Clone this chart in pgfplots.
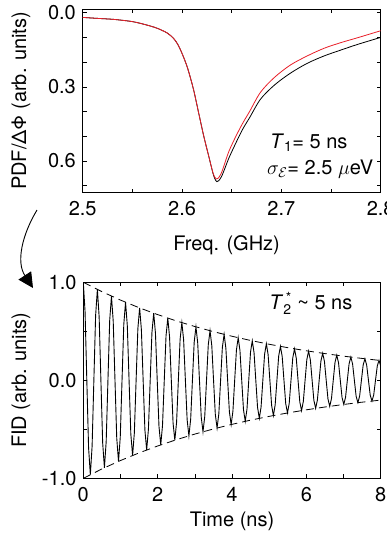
\documentclass[border=0pt]{standalone}
\usepackage{fix-cm}
\usepackage{fontspec}
\setmainfont{TeX Gyre Heros}
\usepackage{pgfplots}
\pgfplotsset{compat=1.18}
\usetikzlibrary{arrows.meta}
\definecolor{cred}{RGB}{232,30,40}
\newcommand\ssz{\fontsize{14}{16}\selectfont}
\newcommand\bsz{\fontsize{20}{23}\selectfont}
\begin{document}
\bsz
\begin{tikzpicture}
\pgfplotsset{
  every axis/.append style={
    scale only axis,
    axis line style={line width=0.8pt},
    tick style={line width=0.6pt, black},
    tick align=inside,
    major tick length=4pt, minor tick length=4pt,
    /pgf/number format/assume math mode=true,
    tick label style={font=\bsz},
    xticklabel style={yshift=-2pt},
    label style={font=\bsz},
  },
}
% ---------------- top panel ----------------
\begin{axis}[
  at={(82.7pt,-192.7pt)}, anchor=south west,
  width=298pt, height=183.4pt,
  xmin=2.5, xmax=2.8, ymin=-0.0138, ymax=0.7287, y dir=reverse,
  xtick={2.5,2.6,2.7,2.8}, minor xtick={2.55,2.65,2.75},
  ytick={0,0.3,0.6}, minor ytick={0.1,0.2,0.4,0.5,0.7},
  xticklabel style={/pgf/number format/.cd, fixed, fixed zerofill, precision=1},
  yticklabel style={/pgf/number format/.cd, fixed, fixed zerofill, precision=1},
  xlabel={Freq. (GHz)}, ylabel={PDF/ΔΦ (arb. units)},
  xlabel style={at={(axis description cs:0.483,-0.315)}, anchor=base},
  ylabel style={at={(axis description cs:-0.19,0.5)}, anchor=base},
]
\addplot[black, line width=0.8pt, smooth] coordinates {
(2.500,0.019) (2.515,0.023) (2.531,0.027) (2.550,0.036) (2.5646,0.050) (2.575,0.063)
(2.585,0.082) (2.5915,0.104) (2.596,0.130) (2.600,0.165) (2.6035,0.200) (2.6067,0.239)
(2.6117,0.313) (2.6168,0.407) (2.622,0.502) (2.627,0.583) (2.631,0.648) (2.633,0.672)
(2.635,0.684) (2.637,0.680) (2.6395,0.665) (2.642,0.642) (2.647,0.590) (2.654,0.529)
(2.661,0.472) (2.668,0.425) (2.679,0.350) (2.693,0.293) (2.709,0.245) (2.726,0.205)
(2.743,0.175) (2.760,0.151) (2.777,0.128) (2.800,0.100)
};
\addplot[cred, line width=0.8pt, smooth] coordinates {
(2.500,0.019) (2.515,0.023) (2.531,0.027) (2.550,0.036) (2.5646,0.050) (2.575,0.063)
(2.585,0.082) (2.5915,0.104) (2.596,0.130) (2.600,0.165) (2.6035,0.200) (2.6067,0.239)
(2.6117,0.313) (2.6168,0.407) (2.622,0.502) (2.627,0.583) (2.631,0.646) (2.633,0.666)
(2.6345,0.673) (2.6365,0.670) (2.6395,0.650) (2.642,0.622) (2.647,0.563) (2.654,0.502)
(2.661,0.448) (2.668,0.400) (2.679,0.322) (2.693,0.262) (2.709,0.212) (2.726,0.175)
(2.743,0.144) (2.760,0.121) (2.777,0.101) (2.800,0.073)
};
\node[anchor=base west] at (axis description cs:0.606,0.242) {\textit{T}\textsubscript{1}= 5 ns};
\node[anchor=base west] at (axis description cs:0.596,0.100) {$\sigma_{\mathcal{E}}$= 2.5 $\mu$eV};
\end{axis}
% ---------------- bottom panel ----------------
\begin{axis}[
  at={(83.3pt,-478.3pt)}, anchor=south west,
  width=297.4pt, height=196pt,
  xmin=0, xmax=8, ymin=-1, ymax=1,
  xtick={0,2,4,6,8}, minor xtick={1,3,5,7},
  ytick={-1,0,1}, minor ytick={-0.5,0.5},
  yticklabel style={/pgf/number format/.cd, fixed, fixed zerofill, precision=1},
  xlabel={Time (ns)}, ylabel={FID (arb. units)},
  xlabel style={at={(axis description cs:0.5,-0.245)}, anchor=base},
  ylabel style={at={(axis description cs:-0.192,0.5)}, anchor=base},
]
\addplot[black, line width=0.9pt] coordinates {
(0,1) (0.0473,0.700) (0.0947,0) (0.1420,-0.687) (0.1894,-0.963) (0.2367,-0.674) (0.2841,0) (0.3314,0.662)
(0.3788,0.927) (0.4261,0.649) (0.4735,0) (0.5208,-0.637) (0.5682,-0.893) (0.6155,-0.625) (0.6629,0) (0.7102,0.613)
(0.7576,0.859) (0.8049,0.602) (0.8523,0) (0.8996,-0.591) (0.9470,-0.827) (0.9943,-0.580) (1.0417,0) (1.0890,0.569)
(1.1364,0.797) (1.1837,0.558) (1.2311,0) (1.2784,-0.548) (1.3258,-0.767) (1.3731,-0.537) (1.4205,0) (1.4678,0.527)
(1.5152,0.739) (1.5625,0.517) (1.6099,0) (1.6572,-0.508) (1.7046,-0.711) (1.7519,-0.498) (1.7993,0) (1.8466,0.489)
(1.8939,0.685) (1.9412,0.480) (1.9886,0) (2.0359,-0.471) (2.0833,-0.659) (2.1306,-0.462) (2.1780,0) (2.2253,0.453)
(2.2727,0.635) (2.3200,0.445) (2.3674,0) (2.4147,-0.436) (2.4621,-0.611) (2.5094,-0.428) (2.5568,0) (2.6041,0.420)
(2.6515,0.588) (2.6988,0.412) (2.7462,0) (2.7935,-0.404) (2.8409,-0.567) (2.8882,-0.397) (2.9356,0) (2.9829,0.389)
(3.0303,0.545) (3.0776,0.382) (3.1250,0) (3.1723,-0.375) (3.2197,-0.525) (3.2670,-0.368) (3.3144,0) (3.3617,0.361)
(3.4091,0.506) (3.4564,0.354) (3.5038,0) (3.5511,-0.348) (3.5985,-0.487) (3.6458,-0.341) (3.6932,0) (3.7405,0.335)
(3.7879,0.469) (3.8352,0.328) (3.8826,0) (3.9299,-0.322) (3.9773,-0.451) (4.0246,-0.316) (4.0720,0) (4.1193,0.310)
(4.1667,0.435) (4.2140,0.304) (4.2614,0) (4.3087,-0.299) (4.3561,-0.418) (4.4034,-0.293) (4.4508,0) (4.4981,0.288)
(4.5455,0.403) (4.5928,0.282) (4.6402,0) (4.6875,-0.277) (4.7349,-0.388) (4.7822,-0.272) (4.8296,0) (4.8769,0.267)
(4.9242,0.373) (4.9715,0.262) (5.0189,0) (5.0662,-0.257) (5.1136,-0.360) (5.1609,-0.252) (5.2083,0) (5.2556,0.247)
(5.3030,0.346) (5.3503,0.243) (5.3977,0) (5.4450,-0.238) (5.4924,-0.333) (5.5397,-0.234) (5.5871,0) (5.6344,0.229)
(5.6818,0.321) (5.7291,0.225) (5.7765,0) (5.8238,-0.221) (5.8712,-0.309) (5.9185,-0.216) (5.9659,0) (6.0132,0.212)
(6.0606,0.298) (6.1079,0.208) (6.1553,0) (6.2026,-0.205) (6.2500,-0.286) (6.2973,-0.201) (6.3447,0) (6.3920,0.197)
(6.4394,0.276) (6.4867,0.193) (6.5341,0) (6.5814,-0.190) (6.6288,-0.266) (6.6761,-0.186) (6.7235,0) (6.7708,0.183)
(6.8182,0.256) (6.8655,0.179) (6.9129,0) (6.9602,-0.176) (7.0076,-0.246) (7.0549,-0.172) (7.1023,0) (7.1496,0.169)
(7.1970,0.237) (7.2443,0.166) (7.2917,0) (7.3390,-0.163) (7.3864,-0.228) (7.4337,-0.160) (7.4811,0) (7.5284,0.157)
(7.5758,0.220) (7.6231,0.154) (7.6705,0) (7.7178,-0.151) (7.7652,-0.212) (7.8125,-0.148) (7.8599,0) (7.9072,0.145)
(7.9545,0.204) (8.0018,0.143)
};
\addplot[black, line width=0.8pt, dash pattern=on 8pt off 5pt] coordinates {
(0,1) (0.5,0.9048) (1,0.8187) (1.5,0.7408) (2,0.6703) (2.5,0.6065) (3,0.5488) (3.5,0.4966)
(4,0.4493) (4.5,0.4066) (5,0.3679) (5.5,0.3329) (6,0.3012) (6.5,0.2725) (7,0.2466) (7.5,0.2231) (8,0.2019)
};
\addplot[black, line width=0.8pt, dash pattern=on 8pt off 5pt] coordinates {
(0,-1) (0.5,-0.9048) (1,-0.8187) (1.5,-0.7408) (2,-0.6703) (2.5,-0.6065) (3,-0.5488) (3.5,-0.4966)
(4,-0.4493) (4.5,-0.4066) (5,-0.3679) (5.5,-0.3329) (6,-0.3012) (6.5,-0.2725) (7,-0.2466) (7.5,-0.2231) (8,-0.2019)
};
\node[anchor=base west] at (axis description cs:0.603,0.859) {\textit{T}$_{\mbox{\ssz 2}}^{\,\mbox{\ssz *}}$ \textasciitilde{} 5 ns};
\end{axis}
% curved arrow between the panels
\draw[line width=0.9pt, -{Triangle[length=15pt,width=15pt]}] (37pt,-210pt) .. controls (22pt,-235pt) and (16pt,-262pt) .. (33pt,-288pt);
\pgfresetboundingbox
\useasboundingbox (0pt,0pt) rectangle (386pt,-535pt);
\end{tikzpicture}
\end{document}
